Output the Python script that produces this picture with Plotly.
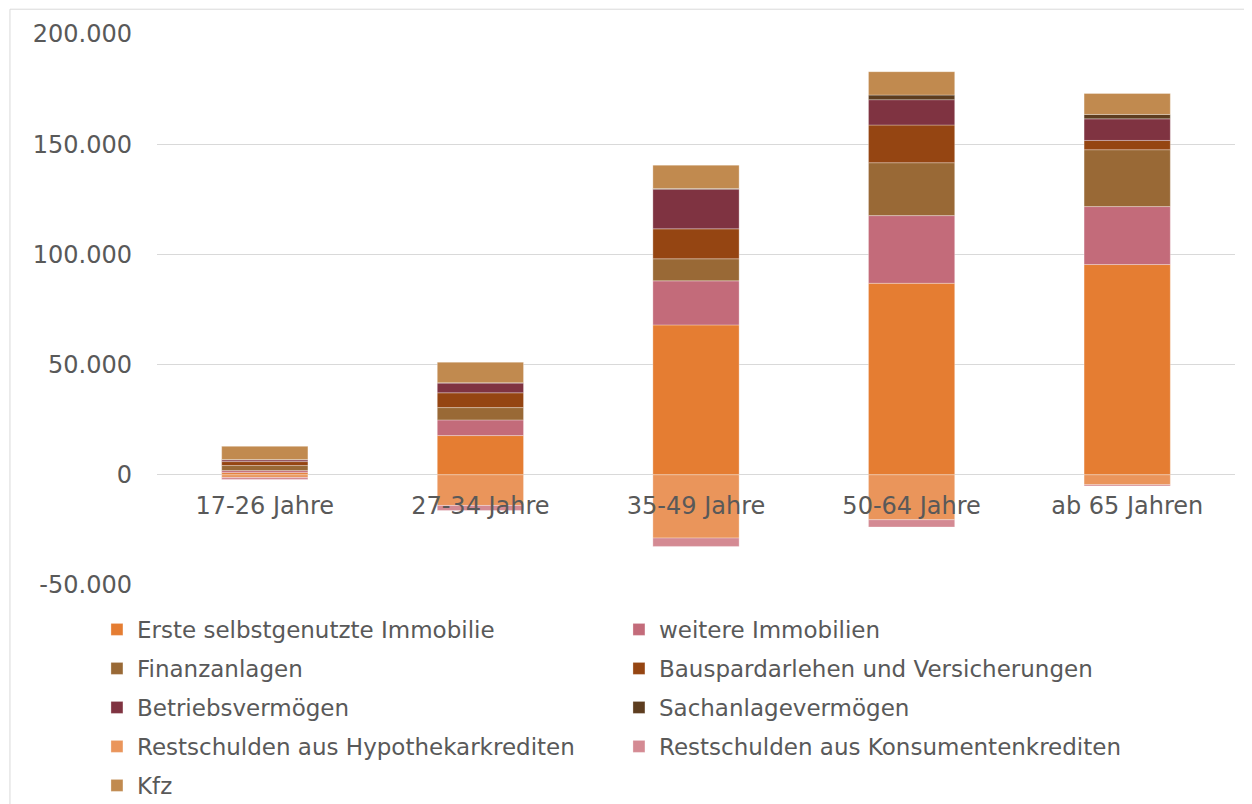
import plotly.graph_objects as go

# age groups
categories = ["17-26 Jahre", "27-34 Jahre", "35-49 Jahre", "50-64 Jahre", "ab 65 Jahren"]

# wealth components (Euro)
erste_immobilie = [1000, 17800, 68000, 86900, 95400]
weitere_immobilien = [900, 7100, 20000, 30700, 26300]
finanzanlagen = [2300, 5600, 10000, 24000, 25800]
bauspar = [1800, 6700, 13600, 17100, 4200]
betriebsvermoegen = [800, 4400, 18000, 11500, 9800]
sachanlagen = [100, 200, 300, 2100, 2000]
hypothek = [-1200, -13900, -28700, -20400, -4500]
konsum = [-900, -2300, -3800, -3300, -600]
kfz = [6000, 9300, 10600, 10600, 9500]

tick_vals = [-50000, 0, 50000, 100000, 150000, 200000]
tick_text = ["-50.000", "0", "50.000", "100.000", "150.000", "200.000"]

# name, values, colour, legend row
series = [
    ("Erste selbstgenutzte Immobilie", erste_immobilie, "#E57D32", "legend"),
    ("weitere Immobilien", weitere_immobilien, "#C36B7A", "legend"),
    ("Finanzanlagen", finanzanlagen, "#996936", "legend2"),
    ("Bauspardarlehen und Versicherungen", bauspar, "#954512", "legend2"),
    ("Betriebsvermögen", betriebsvermoegen, "#7F3341", "legend3"),
    ("Sachanlagevermögen", sachanlagen, "#5D3D1F", "legend3"),
    ("Restschulden aus Hypothekarkrediten", hypothek, "#EA955B", "legend4"),
    ("Restschulden aus Konsumentenkrediten", konsum, "#D48A93", "legend4"),
    ("Kfz", kfz, "#C18A4F", "legend5"),
]

fig = go.Figure()
for name, vals, col, leg in series:
    fig.add_trace(go.Bar(
        x=categories, y=vals, name=name, legend=leg,
        marker=dict(color=col, line=dict(width=0.6, color="rgba(255,255,255,0.5)")),
    ))

grey = "#595959"

# one legend per row so the row spacing matches the original
row_y = [-0.0807, -0.1515, -0.2223, -0.2930, -0.3638]
legends = {}
for i, ry in enumerate(row_y):
    key = "legend" if i == 0 else "legend%d" % (i + 1)
    legends[key] = dict(
        orientation="h",
        x=-0.0557, xanchor="left",
        y=ry, yanchor="middle",
        entrywidth=477, entrywidthmode="pixels",
        font=dict(size=23, color=grey),
        bgcolor="rgba(0,0,0,0)",
    )

fig.update_layout(
    barmode="relative",
    bargap=0.6,
    width=1252, height=804,
    margin=dict(l=149, r=25, t=26, b=227, autoexpand=False),
    plot_bgcolor="white",
    paper_bgcolor="white",
    font=dict(family="DejaVu Sans", size=24, color=grey),
    showlegend=True,
    xaxis=dict(
        anchor="free", position=110 / 551,
        showgrid=False, showline=False, ticks="",
        ticklabelstandoff=14,
        tickfont=dict(size=24, color=grey),
    ),
    yaxis=dict(
        range=[-50000, 200000],
        tickvals=tick_vals, ticktext=tick_text,
        showgrid=True, gridcolor="#d9d9d9", gridwidth=1,
        zeroline=True, zerolinecolor="#d9d9d9", zerolinewidth=1,
        ticks="", ticklabelstandoff=24,
        tickfont=dict(size=24, color=grey),
    ),
    shapes=[dict(
        type="rect", xref="paper", yref="paper",
        x0=-0.1364, x1=1.1, y0=-0.6, y1=1.045,
        line=dict(color="#d9d9d9", width=1), fillcolor="rgba(0,0,0,0)",
        layer="below",
    )],
    **legends,
)

fig.write_html("out.html")
